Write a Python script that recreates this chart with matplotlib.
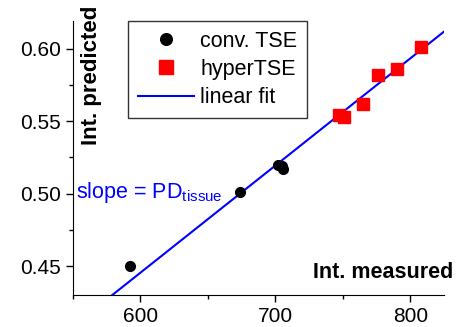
import numpy as np
import matplotlib.pyplot as plt
from matplotlib.ticker import MultipleLocator

plt.rcParams['font.family'] = ['Liberation Sans', 'DejaVu Sans']

# values
conv_x = [592, 674, 702, 706, 705]
conv_y = [0.450, 0.501, 0.520, 0.517, 0.519]
hyper_x = [747, 751, 765, 776, 790, 808]
hyper_y = [0.554, 0.553, 0.562, 0.582, 0.586, 0.601]
fit_slope = 0.000739
fit_intercept = 0.002

W, H = 470, 327
fig = plt.figure(figsize=(W / 100, H / 100), dpi=100)
ax = fig.add_axes([73 / W, 32 / H, 371 / W, 274 / H])

xs = np.array([550, 830])
ax.plot(xs, fit_slope * xs + fit_intercept, color='#0000ff', lw=1.5, label='linear fit', zorder=2)
ax.plot(conv_x, conv_y, 'o', color='black', ms=7, label='conv. TSE', zorder=3)
ax.plot(hyper_x, hyper_y, 's', color='#ff0000', ms=8, label='hyperTSE', zorder=3)

ax.set_xlim(550, 825)
ax.set_ylim(0.43, 0.619)
ax.spines['top'].set_visible(False)
ax.spines['right'].set_visible(False)
ax.xaxis.set_major_locator(MultipleLocator(100))
ax.xaxis.set_minor_locator(MultipleLocator(50))
ax.yaxis.set_major_locator(MultipleLocator(0.05))
ax.yaxis.set_minor_locator(MultipleLocator(0.025))
ax.yaxis.set_major_formatter(plt.FormatStrFormatter('%.2f'))
ax.tick_params(which='major', direction='out', length=5, width=1, labelsize=15)
ax.tick_params(which='minor', direction='out', length=3, width=1)

fig.text(92 / W, 1 - 6 / H, 'Int. predicted', rotation=90,
         ha='center', va='top', fontsize=16, fontweight='bold')
fig.text(453 / W, 1 - 273 / H, 'Int. measured',
         ha='right', va='center', fontsize=15.5, fontweight='bold')
ax.text(552, 0.4972, r'slope = PD$_{\mathregular{tissue}}$',
        color='#0000ff', fontsize=15.5, va='baseline', ha='left')

h, l = ax.get_legend_handles_labels()
leg = ax.legend([h[1], h[2], h[0]], [l[1], l[2], l[0]], loc='upper left',
                bbox_to_anchor=(128 / W, 1 - 21 / H), bbox_transform=fig.transFigure,
                borderaxespad=0, fontsize=15.5, frameon=True, fancybox=False,
                edgecolor='black', handlelength=2.6, borderpad=0.45, labelspacing=0.34,
                handletextpad=0.3, markerscale=1.2)
leg.get_frame().set_linewidth(1)

fig.savefig('out.png', dpi=100)
